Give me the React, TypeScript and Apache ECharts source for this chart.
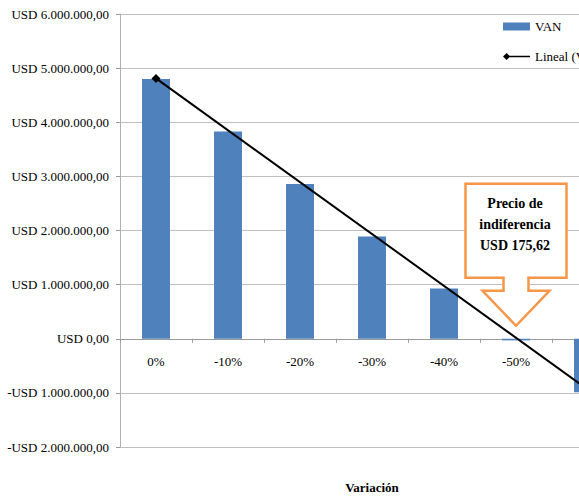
import React, { useEffect, useRef } from "react";
import * as echarts from "echarts";

const categories = ["0%", "-10%", "-20%", "-30%", "-40%", "-50%", "-60%"];
const vanValues = [4800000, 3830000, 2860000, 1890000, 930000, -30000, -990000];
const trendStartValue = 4810000;
const trendEndValue = -940000;
const yMin = -2000000;
const yMax = 6000000;
const yInterval = 1000000;
const calloutLines = ["Precio de", "indiferencia", "USD 175,62"];
const calloutCategory = "-50%";
const xAxisTitle = "Variación";
const seriesNames = ["VAN", "Lineal (VAN)"];

const FONT = "'Liberation Serif', 'Times New Roman', serif";

function fmtUSD(v: number): string {
  const abs = Math.round(Math.abs(v)).toString().replace(/\B(?=(\d{3})+(?!\d))/g, ".");
  return (v < 0 ? "-" : "") + "USD " + abs + ",00";
}

export default function App() {
  const ref = useRef<HTMLDivElement>(null);
  useEffect(() => {
    if (!ref.current) return;
    const chart = echarts.init(ref.current, null, { renderer: "svg" });
    const last = categories.length - 1;
    const trendData = categories.map((_, i) =>
      i === 0
        ? { value: trendStartValue, symbol: "diamond", symbolSize: 9 }
        : i === last
        ? { value: trendEndValue, symbol: "none" }
        : null
    );
    chart.setOption({
      animation: false,
      backgroundColor: "#ffffff",
      grid: { left: 120, top: 14, right: -45, bottom: 50, containLabel: false, outerBoundsMode: "none" },
      legend: {
        orient: "vertical",
        left: 503,
        top: 20,
        itemWidth: 27,
        itemHeight: 8,
        itemGap: 17,
        padding: 0,
        textStyle: { fontFamily: FONT, fontSize: 13, color: "#000" },
        data: [
          { name: seriesNames[0], icon: "rect" },
          { name: seriesNames[1], icon: "path://M0,4L4,0L8,4L4,8ZM6,3.3H30V4.7H6Z" },
        ],
      },
      xAxis: {
        type: "category",
        data: categories,
        axisLine: { onZero: false, lineStyle: { color: "#9a9a9a", width: 1 } },
        axisTick: { show: true, length: 4, inside: false, lineStyle: { color: "#9a9a9a" } },
        axisLabel: { fontFamily: FONT, fontSize: 13, color: "#000", margin: 16 },
        splitLine: { show: false },
      },
      yAxis: {
        type: "value",
        min: yMin,
        max: yMax,
        interval: yInterval,
        axisLine: { show: true, lineStyle: { color: "#b0b0b0" } },
        axisTick: { show: true, length: 4, lineStyle: { color: "#9a9a9a" } },
        axisLabel: { fontFamily: FONT, fontSize: 13, color: "#000", margin: 11, formatter: (v: number) => fmtUSD(v) },
        splitLine: { show: true, lineStyle: { color: "#bfbfbf", width: 1 } },
      },
      series: [
        {
          name: seriesNames[0],
          type: "bar",
          data: vanValues,
          barWidth: 28,
          itemStyle: { color: "#4f81bd" },
        },
        {
          name: seriesNames[1],
          type: "line",
          data: trendData,
          connectNulls: true,
          color: "#000000",
          lineStyle: { color: "#000000", width: 2 },
          itemStyle: { color: "#000000" },
          z: 5,
        },
      ],
    });
    const grid = (chart as any).getModel().getComponent("grid").coordinateSystem.getRect();
    const zeroY = (chart.convertToPixel({ yAxisIndex: 0 }, 0) as number);
    const axisOffset = zeroY - (grid.y + grid.height);
    const tip0 = chart.convertToPixel({ xAxisIndex: 0, yAxisIndex: 0 }, [calloutCategory, 0]) as number[];
    const tx = tip0[0];
    const ty = tip0[1] - 13;
    const pts = [
      [-50.5, -142], [50.5, -142], [50.5, -48], [12.5, -48], [12.5, -35], [33.5, -35],
      [0, 0], [-33.5, -35], [-12.5, -35], [-12.5, -48], [-50.5, -48],
    ].map(([dx, dy]) => [tx + dx, ty + dy]);
    chart.setOption({
      xAxis: { offset: axisOffset },
      graphic: [
        {
          type: "polygon",
          shape: { points: pts },
          style: { fill: "#ffffff", stroke: "#f79646", lineWidth: 2.5 },
          z: 10,
        },
        {
          type: "text",
          x: tx - 1,
          y: ty - 101,
          style: {
            text: calloutLines.join("\n"),
            align: "center",
            verticalAlign: "middle",
            font: "bold 14px " + FONT,
            lineHeight: 21,
            fill: "#000",
          },
          z: 11,
        },
        {
          type: "text",
          x: grid.x + grid.width / 2,
          y: 487,
          style: {
            text: xAxisTitle,
            align: "center",
            verticalAlign: "middle",
            font: "bold 13px " + FONT,
            fill: "#000",
          },
        },
      ],
    });
    return () => chart.dispose();
  }, []);
  return (
    <div
      ref={ref}
      style={{ position: "fixed", left: 0, top: 0, width: 579, height: 497, background: "#fff" }}
    />
  );
}
